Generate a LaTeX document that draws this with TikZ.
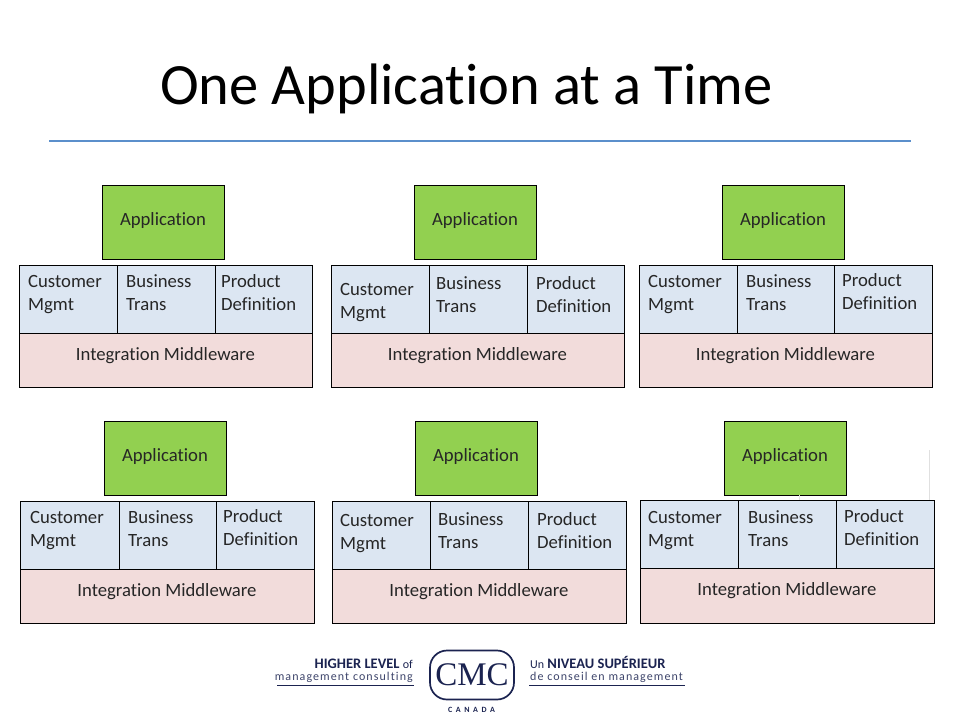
\documentclass[tikz,border=0pt]{standalone}
\usepackage{fontspec}
\setmainfont{Carlito}[Ligatures=NoCommon]
\definecolor{appgreen}{HTML}{92D050}
\definecolor{cellblue}{HTML}{DCE6F2}
\definecolor{midpink}{HTML}{F2DCDB}
\definecolor{rulecol}{HTML}{5B8FCB}
\definecolor{logonavy}{HTML}{1B2350}
\tikzset{
  box/.style={draw=black,line width=.9pt,anchor=north west,inner sep=0pt},
  appbox/.style={box,fill=appgreen,minimum width=122pt,minimum height=74pt},
  cellbox/.style={box,fill=cellblue,minimum height=68pt},
  midbox/.style={box,fill=midpink},
  lab/.style={font=\fontsize{18.7}{23}\selectfont,text=black!85,inner sep=0pt},
  celllab/.style={lab,anchor=west,align=left},
  logotxt/.style={text=logonavy,inner sep=0pt},
}
\begin{document}
\begin{tikzpicture}[x=1pt,y=-1pt]
  \useasboundingbox (0,0) rectangle (960,720);
  \node[inner sep=0pt,font=\fontsize{58.5}{64}\selectfont,text=black] (title) at (466.5,89) {One Application at a Time};
  \coordinate (ruleL) at (49,141);
  \coordinate (ruleR) at (911,141);
  \draw[rulecol,line width=1.4pt] (ruleL) -- (ruleR);
  % stack: name / app x,y / cell edges / top / middleware height / text x and y
  \foreach \n/\ax/\ay/\xa/\xb/\xc/\xd/\yt/\hm/\ca/\cb/\cc/\ya/\yb/\yc in {
    a/102/185/19/117/215/312/265/54/28/126/221/294.5/292.5/292.5,
    b/414/185/331/429/527/624/265/54/340/436/536/302.5/294.5/294.5,
    c/722/185/639/737/834/932/265/54/648/746/842/294.5/292.5/291.5,
    d/104/421/20/119/216/314/501/54/30/128/223/530.5/528.5/527.5,
    e/415/421/332/430/528/626/501/54/340/438/537/533.5/530.5/530.5,
    f/724/421/640/738/836/934/500/55/648/748/844/530.5/528.5/527.5}
  {
    \node[appbox] (app\n) at (\ax,\ay) {};
    \node[lab] at ([xshift=-.5pt,yshift=2pt]app\n.center) {Application};
    \pgfmathsetmacro\wa{\xb-\xa}
    \pgfmathsetmacro\wb{\xc-\xb}
    \pgfmathsetmacro\wc{\xd-\xc}
    \pgfmathsetmacro\wm{\xd-\xa}
    \node[cellbox,minimum width=\wa pt] (cust\n) at (\xa,\yt) {};
    \node[cellbox,minimum width=\wb pt] (bus\n) at (\xb,\yt) {};
    \node[cellbox,minimum width=\wc pt] (prod\n) at (\xc,\yt) {};
    \node[midbox,minimum width=\wm pt,minimum height=\hm pt] (mid\n) at (\xa,\yt+68) {};
    \node[lab] at ([xshift=-.5pt,yshift=5pt]mid\n.center) {Integration Middleware};
    \node[celllab] (custlab\n) at (\ca,\ya) {Customer\\Mgmt};
    \node[celllab] (buslab\n) at (\cb,\yb) {Business\\Trans};
    \node[celllab] (prodlab\n) at (\cc,\yc) {Product\\Definition};
  }
  % faint leftovers behind the last stack
  \coordinate (fa) at (929.5,450);
  \coordinate (fb) at (929.5,500);
  \coordinate (fc) at (799.5,495);
  \coordinate (fd) at (799.5,500);
  \draw[black!12,line width=1pt] (fa) -- (fb) (fc) -- (fd);
  % logo
  \node[draw=logonavy,line width=1.7pt,rounded corners=17pt,minimum width=84pt,minimum height=49pt,inner sep=0pt,
    font=\fontsize{33}{33}\selectfont\fontspec{Liberation Serif},text=logonavy] (cmc) at (472,675) {CMC};
  \node[logotxt,anchor=base,font=\fontsize{8}{9}\selectfont\bfseries] (canada) at (471.5,712) {\addfontfeature{LetterSpace=45}CANADA};
  \node[logotxt,anchor=base east,font=\fontsize{14.5}{15}\selectfont] (higher) at (413,668) {\textbf{HIGHER LEVEL} {\fontsize{12}{12}\selectfont of}};
  \node[logotxt,anchor=base east,font=\fontsize{12}{13}\selectfont,text=logonavy!85] (mgmtc) at (413,680) {\addfontfeature{LetterSpace=9}management consulting};
  \node[logotxt,anchor=base west,font=\fontsize{14.5}{15}\selectfont] (niveau) at (530,668) {{\fontsize{12}{12}\selectfont Un} \textbf{NIVEAU SUPÉRIEUR}};
  \node[logotxt,anchor=base west,font=\fontsize{12}{13}\selectfont,text=logonavy!85] (conseil) at (530,680) {\addfontfeature{LetterSpace=9}de conseil en management};
  \coordinate (lineLa) at (277,685);
  \coordinate (lineLb) at (414,685);
  \coordinate (lineRa) at (529,685);
  \coordinate (lineRb) at (685,685);
  \draw[logonavy,line width=1pt] (lineLa) -- (lineLb) (lineRa) -- (lineRb);
\end{tikzpicture}
\end{document}
